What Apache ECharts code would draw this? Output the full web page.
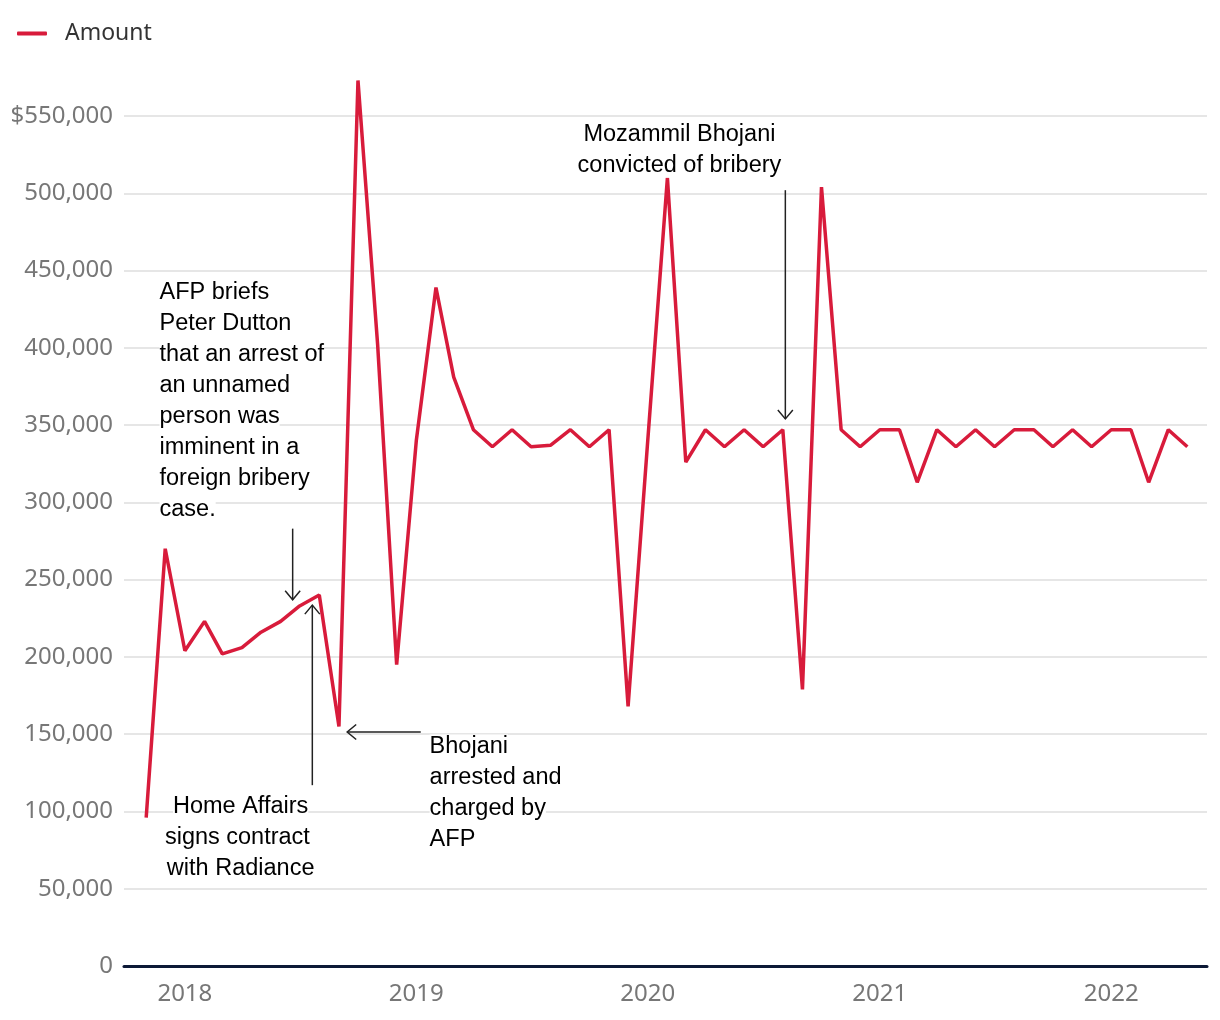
<!DOCTYPE html>
<html>
<head>
<meta charset="utf-8">
<script src="https://cdn.jsdelivr.net/npm/echarts@6/dist/echarts.min.js"></script>
<style>
html,body{margin:0;padding:0;background:#fff}
#c{width:1220px;height:1020px}
</style>
</head>
<body>
<div id="c"></div>
<script>
// ---- data ----
const months = [
  '2017-11','2017-12',
  '2018-01','2018-02','2018-03','2018-04','2018-05','2018-06','2018-07','2018-08','2018-09','2018-10','2018-11','2018-12',
  '2019-01','2019-02','2019-03','2019-04','2019-05','2019-06','2019-07','2019-08','2019-09','2019-10','2019-11','2019-12',
  '2020-01','2020-02','2020-03','2020-04','2020-05','2020-06','2020-07','2020-08','2020-09','2020-10','2020-11','2020-12',
  '2021-01','2021-02','2021-03','2021-04','2021-05','2021-06','2021-07','2021-08','2021-09','2021-10','2021-11','2021-12',
  '2022-01','2022-02','2022-03','2022-04','2022-05'
];
const amounts = [
  96000, 270000,
  204000, 223000, 202000, 206000, 216000, 223000, 233000, 240000, 155000, 573000, 402000, 195000,
  340000, 439000, 381000, 347000, 336000, 347000, 336000, 337000, 347000, 336000, 347000, 168000,
  340000, 510000, 326000, 347000, 336000, 347000, 336000, 347000, 179000, 504000, 347000, 336000,
  347000, 347000, 313000, 347000, 336000, 347000, 336000, 347000, 347000, 336000, 347000, 336000,
  347000, 347000, 313000, 347000, 336000
];
const seriesName = 'Amount';
const yearLabels = ['2018', '2019', '2020', '2021', '2022'];
const yMin = 0, yMax = 550000, yStep = 50000;
const xStart = '2017-09-27', xEnd = '2022-06-01';

const annotations = [
  { lines: ['AFP briefs', 'Peter Dutton', 'that an arrest of', 'an unnamed', 'person was', 'imminent in a', 'foreign bribery', 'case.'],
    textAt: ['2017-11-22', 446000], align: 'left',
    arrow: [['2018-06-20', 283000], ['2018-06-20', 237000]] },
  { lines: ['Home Affairs', 'signs contract ', 'with Radiance'],
    textAt: ['2018-03-30', 113000], align: 'center',
    arrow: [['2018-07-21', 117000], ['2018-07-21', 233500]] },
  { lines: ['Bhojani', 'arrested and', 'charged by', 'AFP'],
    textAt: ['2019-01-22', 152000], align: 'left',
    arrow: [['2019-01-08', 151400], ['2018-09-14', 151400]] },
  { lines: ['Mozammil Bhojani', 'convicted of bribery'],
    textAt: ['2020-02-20', 548000], align: 'center',
    arrow: [['2020-08-05', 502000], ['2020-08-05', 354000]] }
];

// ---- helpers ----
function t(s) {
  const p = s.split('-').map(Number);
  return new Date(p[0], p[1] - 1, p[2] || 1).getTime();
}

const RED = '#d81b3b';
const AXIS_FONT = 'Noto Sans';
const ANN_FONT = 'Liberation Sans, Arial, Helvetica, sans-serif';
const yearSet = new Set(yearLabels);

const chart = echarts.init(document.getElementById('c'), null, { renderer: 'canvas' });

chart.setOption({
  animation: false,
  backgroundColor: '#fff',
  grid: { left: 124, right: 13, top: 116, bottom: 54, containLabel: false },
  legend: {
    data: [seriesName], left: 17, top: 22, padding: 0,
    icon: 'roundRect', itemWidth: 30, itemHeight: 4,
    textStyle: { color: '#333', fontSize: 23, fontFamily: AXIS_FONT, padding: [0, 0, 0, 13] }
  },
  xAxis: {
    type: 'time', min: t(xStart), max: t(xEnd), z: 3,
    axisLine: { show: true, lineStyle: { color: '#0c1936', width: 3 } },
    axisTick: { show: false },
    splitLine: { show: false },
    axisLabel: {
      showMinLabel: false, showMaxLabel: false,
      formatter: function (v) {
        const d = new Date(v);
        const y = String(d.getFullYear());
        return (d.getMonth() === 0 && d.getDate() === 1 && yearSet.has(y)) ? y : '';
      },
      color: '#777', fontSize: 24, fontFamily: AXIS_FONT, margin: 16
    }
  },
  yAxis: {
    type: 'value', min: yMin, max: yMax, interval: yStep,
    axisLine: { show: false }, axisTick: { show: false },
    splitLine: { lineStyle: { color: '#e6e6e6', width: 2 } },
    axisLabel: {
      color: '#777', fontSize: 24, fontFamily: AXIS_FONT, margin: 11, padding: [4, 0, 0, 0],
      formatter: v => (v === yMax ? '$' : '') + v.toLocaleString('en-US')
    }
  },
  series: [{
    name: seriesName, type: 'line', symbol: 'none', clip: false,
    data: months.map((m, i) => [t(m), amounts[i]]),
    itemStyle: { color: RED },
    lineStyle: { color: RED, width: 3.5 }
  }]
});

// ---- annotations positioned through the chart's own scales ----
function px(pt) { return chart.convertToPixel({ gridIndex: 0 }, [t(pt[0]), pt[1]]); }

const graphics = [];
annotations.forEach(a => {
  const tp = px(a.textAt);
  graphics.push({
    type: 'text', z: 10, x: tp[0], y: tp[1],
    style: {
      text: a.lines.map(l => '{a|' + l + '}').join('\n'),
      align: a.align, verticalAlign: 'top',
      rich: { a: { fontSize: 23.5, fontFamily: ANN_FONT, color: '#1e1e1e', lineHeight: 31, backgroundColor: '#fff' } }
    }
  });
  const p1 = px(a.arrow[0]), p2 = px(a.arrow[1]);
  const dx = p2[0] - p1[0], dy = p2[1] - p1[1];
  const len = Math.hypot(dx, dy), ux = dx / len, uy = dy / len;
  const hl = 9, hw = 7.5;
  graphics.push({
    type: 'polyline', z: 11,
    shape: { points: [p1, p2] },
    style: { stroke: '#222', lineWidth: 1.5, fill: null }
  });
  graphics.push({
    type: 'polyline', z: 11,
    shape: { points: [
      [p2[0] - ux * hl - uy * hw, p2[1] - uy * hl + ux * hw],
      p2,
      [p2[0] - ux * hl + uy * hw, p2[1] - uy * hl - ux * hw]
    ] },
    style: { stroke: '#222', lineWidth: 1.5, fill: null }
  });
});
chart.setOption({ graphic: graphics });
</script>
</body>
</html>
